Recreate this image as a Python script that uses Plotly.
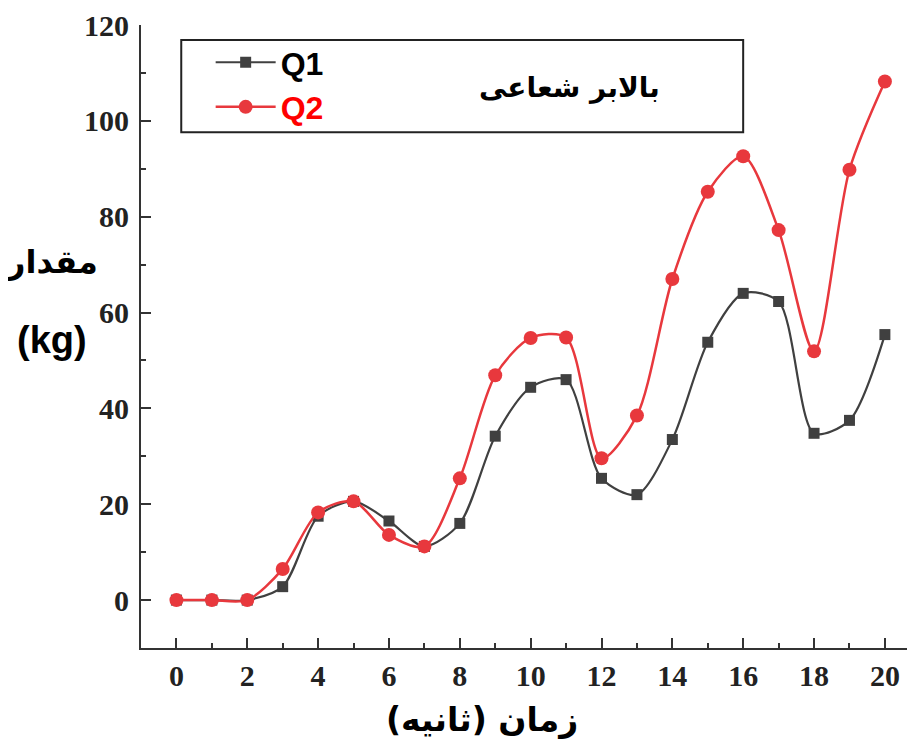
import plotly.graph_objects as go

time_s = list(range(0, 21))
q1 = [0, 0, 0, 2.8, 17.5, 20.6, 16.5, 11.2, 16, 34.2, 44.4, 46, 25.4, 22, 33.5, 53.8, 64, 62.3, 34.8, 37.5, 55.4]
q2 = [0, 0, 0, 6.5, 18.3, 20.6, 13.6, 11.2, 25.4, 46.9, 54.7, 54.8, 29.6, 38.5, 67, 85.2, 92.6, 77.2, 51.9, 89.8, 108.2]

x_tick_vals = list(range(0, 21, 2))
y_tick_vals = list(range(0, 121, 20))

fig = go.Figure()
fig.add_trace(go.Scatter(
    x=time_s, y=q1, name="<b>Q1</b>", mode="lines+markers",
    line=dict(color="#404040", width=2.2, shape="spline", smoothing=0.8),
    marker=dict(symbol="square", size=11, color="#404040"),
))
fig.add_trace(go.Scatter(
    x=time_s, y=q2, name="<b><span style='color:#ff0000'>Q2</span></b>", mode="lines+markers",
    line=dict(color="#e8383d", width=2.5, shape="spline", smoothing=0.8),
    marker=dict(symbol="circle", size=14, color="#e8383d"),
))

tickfont = dict(family="Liberation Serif", size=30, color="#222", weight="bold")

# page body has an 8px margin: compensate so the plot lands where the reference has it
fig.update_layout(
    width=907, height=736,
    margin=dict(l=133, r=0, t=17, b=96),
    paper_bgcolor="white", plot_bgcolor="white",
    showlegend=True,
    legend=dict(x=0.09, y=0.984, xanchor="left", yanchor="top",
                bgcolor="rgba(0,0,0,0)", borderwidth=0,
                font=dict(family="Liberation Sans", size=32, color="black"),
                itemwidth=60, tracegroupgap=0),
    xaxis=dict(range=[-1, 20.85], tickvals=x_tick_vals, ticks="inside", ticklen=10, tickwidth=2,
               tickcolor="#333", showline=True, linecolor="#333", linewidth=2, showgrid=False,
               zeroline=False, tickfont=tickfont, mirror=False, automargin=False,
               ticklabeloverflow="allow",
               minor=dict(dtick=1, tick0=0, ticks="inside", ticklen=5, tickwidth=2, tickcolor="#333", showgrid=False)),
    yaxis=dict(range=[-10, 120], tickvals=y_tick_vals, ticks="inside", ticklen=10, tickwidth=2,
               tickcolor="#333", showline=True, linecolor="#333", linewidth=2, showgrid=False,
               zeroline=False, tickfont=tickfont, automargin=False, ticklabelstandoff=4,
               ticklabeloverflow="allow",
               minor=dict(dtick=10, tick0=0, ticks="inside", ticklen=5, tickwidth=2, tickcolor="#333", showgrid=False)),
)

fig.add_shape(type="rect", xref="paper", yref="paper", x0=0.052, x1=0.778, y0=0.828, y1=0.976,
              line=dict(color="#222", width=2), fillcolor="rgba(0,0,0,0)")

fig.add_annotation(text="<b>بالابر شعاعی</b>", xref="paper", yref="paper", x=0.554, y=0.899,
                   showarrow=False, font=dict(family="DejaVu Sans", size=28, color="black"),
                   xanchor="center", yanchor="middle")
fig.add_annotation(text="<b>مقدار</b>", xref="paper", yref="paper", x=-0.115, y=0.62,
                   showarrow=False, font=dict(family="DejaVu Sans", size=32, color="black"),
                   xanchor="center", yanchor="middle")
fig.add_annotation(text="<b>(kg)</b>", xref="paper", yref="paper", x=-0.115, y=0.494,
                   showarrow=False, font=dict(family="Liberation Sans", size=38, color="black"),
                   xanchor="center", yanchor="middle")
fig.add_annotation(text="<b>زمان (ثانیه)</b>", xref="paper", yref="paper", x=0.44, y=-0.114,
                   showarrow=False, font=dict(family="DejaVu Sans", size=33, color="black"),
                   xanchor="center", yanchor="middle")

fig.write_html("out.html")
